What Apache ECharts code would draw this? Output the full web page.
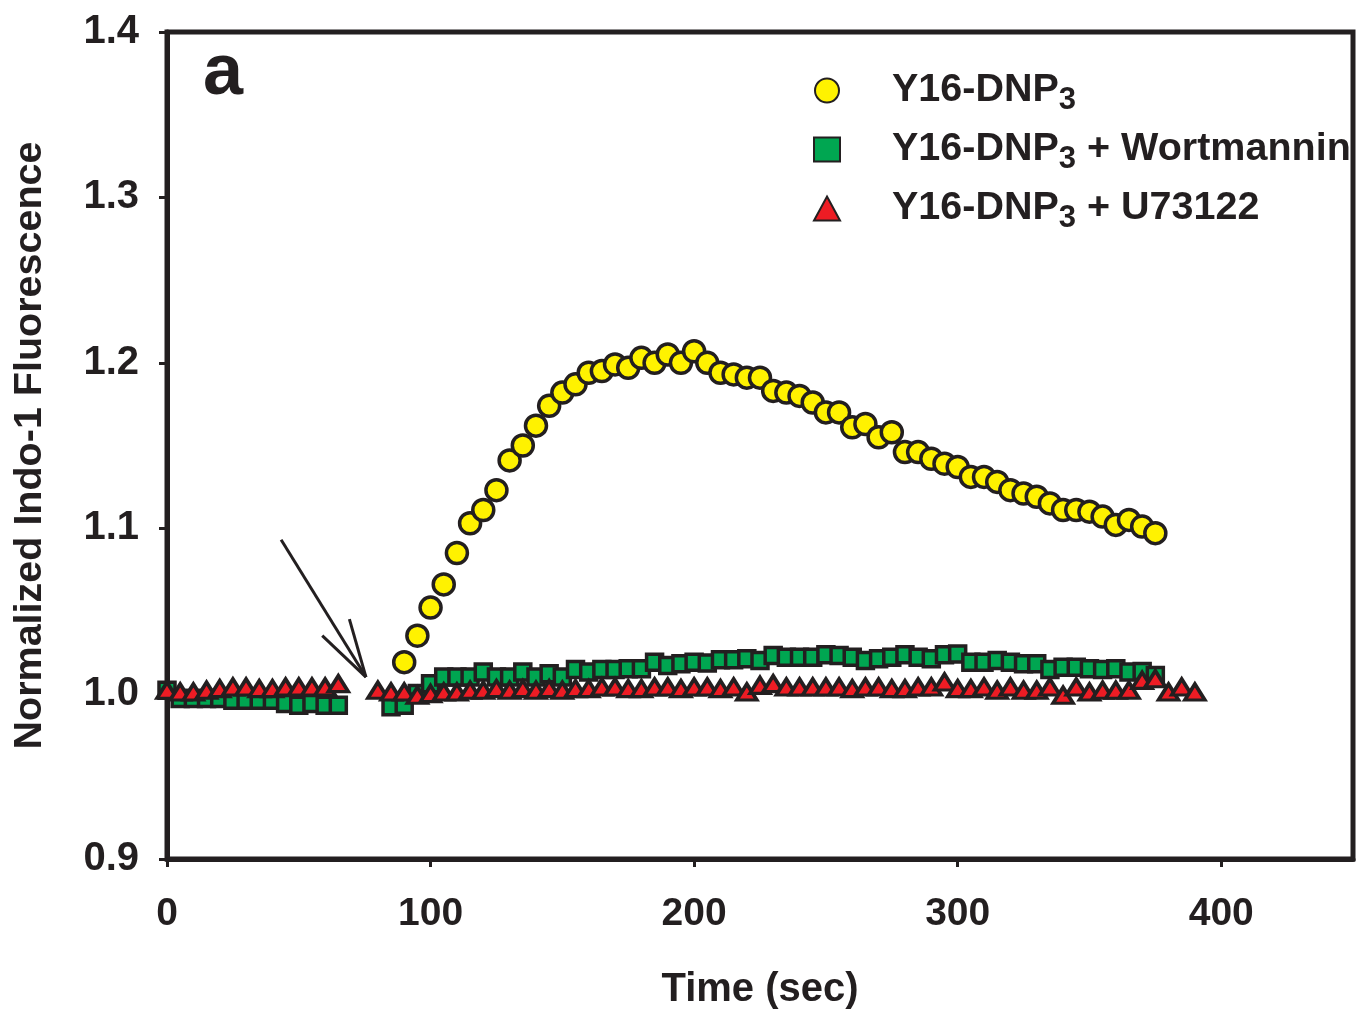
<!DOCTYPE html>
<html>
<head>
<meta charset="utf-8">
<script src="https://cdn.jsdelivr.net/npm/echarts@6/dist/echarts.min.js"></script>
<style>
html,body{margin:0;padding:0;background:#fff;}
#chart{width:1357px;height:1015px;}
</style>
</head>
<body>
<div id="chart"></div>
<script>
// ---- Data (time in sec, normalized Indo-1 fluorescence) ----
var yellowTime = [90,95,100,105,110,115,120,125,130,135,140,145,150,155,160,165,170,175,180,185,190,195,200,205,210,215,220,225,230,235,240,245,250,255,260,265,270,275,280,285,290,295,300,305,310,315,320,325,330,335,340,345,350,355,360,365,370,375];
var yellowVal = [1.019,1.035,1.052,1.066,1.085,1.103,1.111,1.123,1.141,1.150,1.162,1.174,1.182,1.187,1.194,1.195,1.199,1.197,1.203,1.200,1.205,1.200,1.207,1.200,1.194,1.193,1.191,1.191,1.183,1.182,1.180,1.176,1.170,1.170,1.161,1.163,1.155,1.158,1.146,1.146,1.142,1.139,1.137,1.131,1.131,1.128,1.123,1.121,1.119,1.115,1.111,1.111,1.110,1.107,1.102,1.105,1.101,1.097];

var greenTime = [0,5,10,15,20,25,30,35,40,45,50,55,60,65,
  85,90,95,100,105,110,115,120,125,130,135,140,145,150,155,160,165,170,175,180,185,190,195,200,205,210,215,220,225,230,235,240,245,250,255,260,265,270,275,280,285,290,295,300,305,310,315,320,325,330,335,340,345,350,355,360,365,370,375];
var greenVal = [1.002,0.997,0.997,0.997,0.997,0.996,0.996,0.996,0.996,0.994,0.993,0.994,0.993,0.993,
  0.992,0.993,1.000,1.006,1.010,1.010,1.010,1.013,1.010,1.010,1.013,1.010,1.012,1.010,1.0145,1.013,1.0145,1.0145,1.015,1.015,1.019,1.017,1.018,1.019,1.0185,1.0205,1.0205,1.021,1.020,1.023,1.022,1.022,1.022,1.0235,1.023,1.022,1.020,1.021,1.022,1.0235,1.022,1.021,1.0235,1.024,1.019,1.019,1.020,1.019,1.018,1.018,1.0145,1.016,1.016,1.015,1.0145,1.015,1.013,1.0133,1.011];

var redTime = [0,5,10,15,20,25,30,35,40,45,50,55,60,65,
  80,85,90,95,100,105,110,115,120,125,130,135,140,145,150,155,160,165,170,175,180,185,190,195,200,205,210,215,220,225,230,235,240,245,250,255,260,265,270,275,280,285,290,295,300,305,310,315,320,325,330,335,340,345,350,355,360,365,370,375,380,385,390];
var redVal = [1.002,1.001,1.001,1.002,1.003,1.004,1.004,1.003,1.003,1.004,1.004,1.004,1.004,1.006,
  1.002,1.001,1.001,0.999,1.000,1.001,1.001,1.002,1.002,1.003,1.002,1.003,1.002,1.003,1.002,1.003,1.003,1.004,1.004,1.003,1.003,1.004,1.004,1.003,1.004,1.004,1.003,1.004,1.001,1.005,1.006,1.004,1.004,1.004,1.004,1.004,1.003,1.004,1.004,1.003,1.003,1.004,1.004,1.007,1.003,1.003,1.004,1.002,1.004,1.002,1.002,1.004,0.999,1.004,1.001,1.002,1.002,1.002,1.008,1.009,1.001,1.004,1.001];

var seriesNames = ['Y16-DNP3', 'Y16-DNP3 + Wortmannin', 'Y16-DNP3 + U73122'];
var xTicks = [0, 100, 200, 300, 400];

function pairs(t, v) { return t.map(function (x, i) { return [x, v[i]]; }); }

var INK = '#231f20';
var FONT = '"Liberation Sans", Arial, sans-serif';

var chart = echarts.init(document.getElementById('chart'), null, {renderer: 'canvas'});
var legendRich = {
  m: {fontSize: 39.5, fontWeight: 'bold', color: INK, fontFamily: FONT, lineHeight: 44, padding: [0, 0, 0, 47]},
  n: {fontSize: 39.5, fontWeight: 'bold', color: INK, fontFamily: FONT, lineHeight: 44},
  s: {fontSize: 31, fontWeight: 'bold', color: INK, fontFamily: FONT, lineHeight: 24, padding: [20, 0, 0, 0]}
};
var option = {
  backgroundColor: '#ffffff',
  animation: false,
  title: {
    text: 'a', left: 198, top: 33,
    textStyle: {fontSize: 72, fontWeight: 'bold', color: INK, fontFamily: FONT}
  },
  grid: {left: 167, top: 32, right: 4, bottom: 150, show: true, borderColor: INK, borderWidth: 5, backgroundColor: 'transparent'},
  legend: {
    orient: 'vertical', left: 808, top: 60, itemGap: 8, itemWidth: 26, itemHeight: 24,
    data: seriesNames,
    formatter: function (name) {
      var rest = name.slice('Y16-DNP3'.length);
      return '{m|Y16-DNP}{s|3}' + (rest ? '{n|' + rest + '}' : '');
    },
    textStyle: {rich: legendRich}
  },
  xAxis: {
    type: 'value', min: 0, max: 450, interval: 100,
    name: 'Time (sec)', nameLocation: 'middle', nameGap: 111,
    nameTextStyle: {fontSize: 40, fontWeight: 'bold', color: INK, fontFamily: FONT},
    axisLine: {show: true, onZero: false, lineStyle: {color: INK, width: 5}},
    axisTick: {show: true, inside: false, length: 8, lineStyle: {color: INK, width: 3},
      customValues: xTicks},
    axisLabel: {margin: 36, fontSize: 39, fontWeight: 'bold', color: INK, fontFamily: FONT,
      customValues: xTicks},
    splitLine: {show: false}
  },
  yAxis: {
    type: 'value', min: 0.9, max: 1.4, interval: 0.1,
    name: 'Normalized Indo-1 Fluorescence', nameLocation: 'middle', nameGap: 117,
    nameTextStyle: {fontSize: 39.5, fontWeight: 'bold', color: INK, fontFamily: FONT},
    axisLine: {show: true, onZero: false, lineStyle: {color: INK, width: 5}},
    axisTick: {show: true, inside: false, length: 8, lineStyle: {color: INK, width: 3}},
    axisLabel: {margin: 28, fontSize: 40, fontWeight: 'bold', color: INK, fontFamily: FONT,
      formatter: function (v) { return v.toFixed(1); }},
    splitLine: {show: false}
  },
  series: [
    {
      name: seriesNames[0], type: 'scatter', symbol: 'circle', symbolSize: 21, z: 3,
      itemStyle: {color: '#fff200', borderColor: INK, borderWidth: 3.5, opacity: 1},
      data: pairs(yellowTime, yellowVal)
    },
    {
      name: seriesNames[1], type: 'scatter', symbol: 'rect', symbolSize: 16, z: 4,
      itemStyle: {color: '#00a651', borderColor: INK, borderWidth: 3.5, opacity: 1},
      data: pairs(greenTime, greenVal)
    },
    {
      name: seriesNames[2], type: 'scatter', symbol: 'triangle', symbolSize: [20, 16], z: 5,
      itemStyle: {color: '#ed1c24', borderColor: INK, borderWidth: 3.5, opacity: 1},
      data: pairs(redTime, redVal)
    }
  ]
};
chart.setOption(option);

// Arrow annotation (pointing at time of addition), placed via data coordinates
function px(t, v) { return chart.convertToPixel({gridIndex: 0}, [t, v]); }
var tail = px(43.3, 1.093), tip = px(75.5, 1.010), h1 = px(58.9, 1.035), h2 = px(69.2, 1.045);
chart.setOption({
  graphic: [
    {type: 'line', shape: {x1: tail[0], y1: tail[1], x2: tip[0], y2: tip[1]}, style: {stroke: INK, lineWidth: 3}, z: 10},
    {type: 'line', shape: {x1: h1[0], y1: h1[1], x2: tip[0], y2: tip[1]}, style: {stroke: INK, lineWidth: 3}, z: 10},
    {type: 'line', shape: {x1: h2[0], y1: h2[1], x2: tip[0], y2: tip[1]}, style: {stroke: INK, lineWidth: 3}, z: 10}
  ]
});
</script>
</body>
</html>
